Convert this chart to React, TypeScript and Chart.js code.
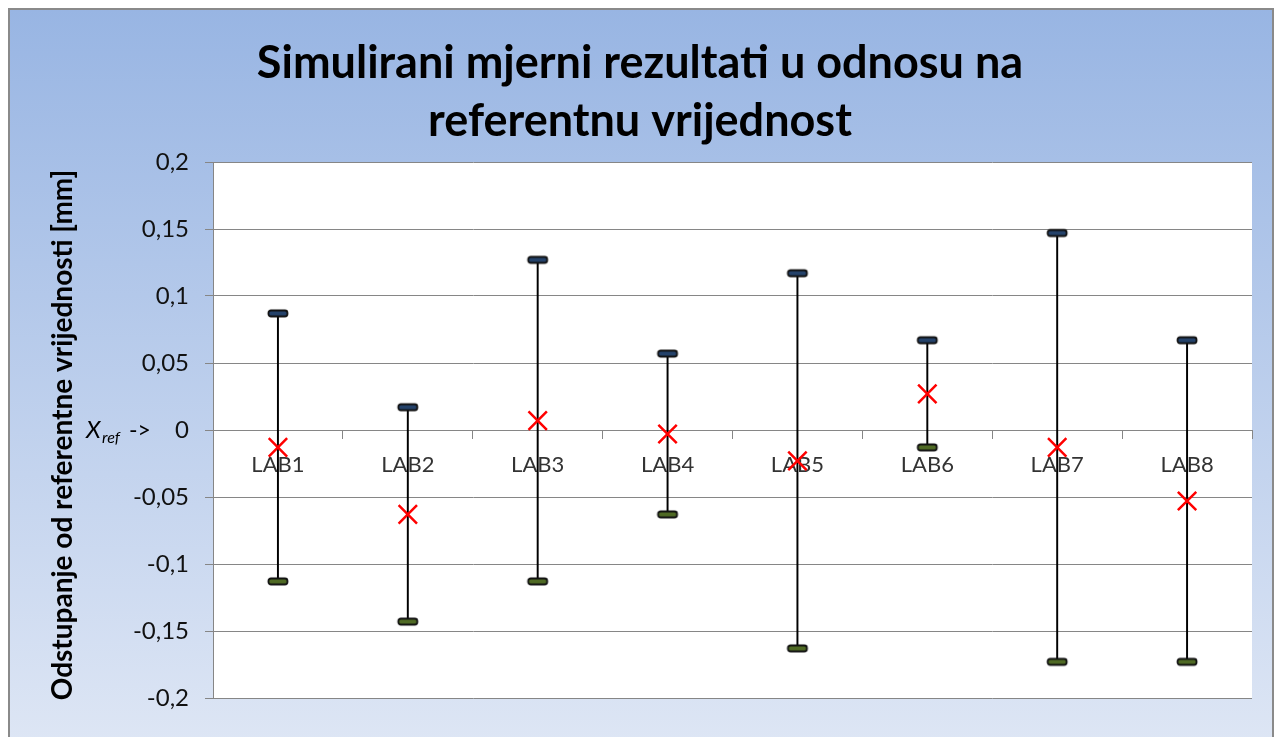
import React, { useEffect, useRef } from "react";
import { Chart, registerables } from "chart.js";

Chart.register(...registerables);

const categories = ["LAB1", "LAB2", "LAB3", "LAB4", "LAB5", "LAB6", "LAB7", "LAB8"];
const highValues = [0.087, 0.017, 0.127, 0.057, 0.117, 0.067, 0.147, 0.067];
const lowValues = [-0.113, -0.143, -0.113, -0.063, -0.163, -0.013, -0.173, -0.173];
const meanValues = [-0.013, -0.063, 0.007, -0.003, -0.023, 0.027, -0.013, -0.053];
const yTickValues = [-0.2, -0.15, -0.1, -0.05, 0, 0.05, 0.1, 0.15, 0.2];
const titleLines = ["Simulirani mjerni rezultati u odnosu na", "referentnu vrijednost"];
const yAxisTitle = "Odstupanje od referentne vrijednosti [mm]";

const FONT = "Lato, 'Open Sans', 'Noto Sans', sans-serif";

function makeCap(fill: string): HTMLCanvasElement {
  const c = document.createElement("canvas");
  c.width = 24;
  c.height = 11;
  const ctx = c.getContext("2d")!;
  ctx.beginPath();
  const x = 2.5, y = 2.5, w = 19, h = 6, r = 2.5;
  ctx.moveTo(x + r, y);
  ctx.lineTo(x + w - r, y);
  ctx.arcTo(x + w, y, x + w, y + r, r);
  ctx.lineTo(x + w, y + h - r);
  ctx.arcTo(x + w, y + h, x + w - r, y + h, r);
  ctx.lineTo(x + r, y + h);
  ctx.arcTo(x, y + h, x, y + h - r, r);
  ctx.lineTo(x, y + r);
  ctx.arcTo(x, y, x + r, y, r);
  ctx.closePath();
  ctx.fillStyle = fill;
  ctx.fill();
  ctx.lineWidth = 1.8;
  ctx.strokeStyle = "#111";
  ctx.stroke();
  return c;
}

const decorPlugin = {
  id: "decor",
  beforeDraw(chart: any) {
    const { ctx, width, height, chartArea } = chart;
    ctx.save();
    ctx.fillStyle = "#ffffff";
    ctx.fillRect(0, 0, width, height);
    const g = ctx.createLinearGradient(0, 9, 0, 760);
    g.addColorStop(0, "#98b5e3");
    g.addColorStop(1, "#dfe7f5");
    ctx.fillStyle = g;
    ctx.fillRect(9, 9, 1264, height);
    ctx.strokeStyle = "#8a8a8a";
    ctx.lineWidth = 2;
    ctx.strokeRect(9, 9, 1264, height + 10);
    ctx.fillStyle = "#ffffff";
    ctx.fillRect(chartArea.left, chartArea.top, chartArea.right - chartArea.left, chartArea.bottom - chartArea.top);
    ctx.restore();
  },
  afterDraw(chart: any) {
    const { ctx } = chart;
    const y = chart.scales.y;
    ctx.save();
    ctx.fillStyle = "#000";
    ctx.textAlign = "center";
    ctx.textBaseline = "alphabetic";
    ctx.font = `bold 45px ${FONT}`;
    ctx.fillText(titleLines[0], 640, 78);
    ctx.fillText(titleLines[1], 640, 136);

    ctx.save();
    ctx.translate(63, 435);
    ctx.rotate(-Math.PI / 2);
    ctx.font = `bold 28px ${FONT}`;
    ctx.textBaseline = "middle";
    ctx.fillText(yAxisTitle, 0, 0);
    ctx.restore();

    const y0 = y.getPixelForValue(0) + 8;
    ctx.textAlign = "left";
    ctx.textBaseline = "alphabetic";
    ctx.font = `italic 24px ${FONT}`;
    ctx.fillText("X", 86, y0);
    ctx.font = `italic 16px ${FONT}`;
    ctx.fillText("ref", 102, y0 + 5);
    ctx.font = `23px ${FONT}`;
    ctx.fillText("->", 129, y0);
    ctx.restore();
  },
};

export default function App() {
  const ref = useRef<HTMLCanvasElement | null>(null);
  useEffect(() => {
    if (!ref.current) return;
    const topCap = makeCap("#24426a");
    const bottomCap = makeCap("#4f6a24");
    const chart = new Chart(ref.current, {
      type: "bar",
      data: {
        labels: categories,
        datasets: [
          {
            type: "bar",
            data: categories.map((_, i) => [lowValues[i], highValues[i]]) as any,
            backgroundColor: "#000000",
            borderWidth: 0,
            barThickness: 1.3,
            order: 3,
          },
          {
            type: "line",
            data: highValues,
            showLine: false,
            pointStyle: topCap as any,
            pointRadius: 6,
            order: 2,
          },
          {
            type: "line",
            data: lowValues,
            showLine: false,
            pointStyle: bottomCap as any,
            pointRadius: 6,
            order: 2,
          },
          {
            type: "line",
            data: meanValues,
            showLine: false,
            pointStyle: "crossRot",
            pointRadius: 13,
            pointBorderColor: "#ff0000",
            pointBorderWidth: 2.5,
            order: 1,
          },
        ],
      },
      options: {
        responsive: false,
        animation: false,
        events: [],
        layout: { padding: { left: 0, top: 162, right: 23, bottom: 39 } },
        plugins: { legend: { display: false }, tooltip: { enabled: false }, title: { display: false } },
        scales: {
          x: {
            type: "category",
            position: { y: 0 } as any,
            offset: true,
            grid: { display: true, drawOnChartArea: false, offset: true, tickLength: 8, color: "#868686", lineWidth: 1 },
            border: { display: true, color: "#868686", width: 1 },
            ticks: { color: "#333333", font: { family: FONT, size: 22 }, padding: 14, maxRotation: 0, autoSkip: false },
          },
          y: {
            type: "linear",
            min: -0.2,
            max: 0.2,
            afterFit(scale: any) {
              scale.width = 213;
            },
            afterBuildTicks(scale: any) {
              scale.ticks = yTickValues.map((v) => ({ value: v }));
            },
            grid: { color: "#868686", lineWidth: 1, tickLength: 8, tickColor: "#868686" },
            border: { display: true, color: "#868686", width: 1 },
            ticks: {
              color: "#111111",
              font: { family: FONT, size: 24 },
              padding: 16,
              callback: (v: any) => parseFloat(Number(v).toFixed(2)).toString().replace(".", ","),
            },
          },
        },
      },
      plugins: [decorPlugin],
    });
    return () => chart.destroy();
  }, []);
  return (
    <canvas
      ref={ref}
      width={1275}
      height={737}
      style={{ position: "fixed", left: 0, top: 0, display: "block" }}
    />
  );
}
